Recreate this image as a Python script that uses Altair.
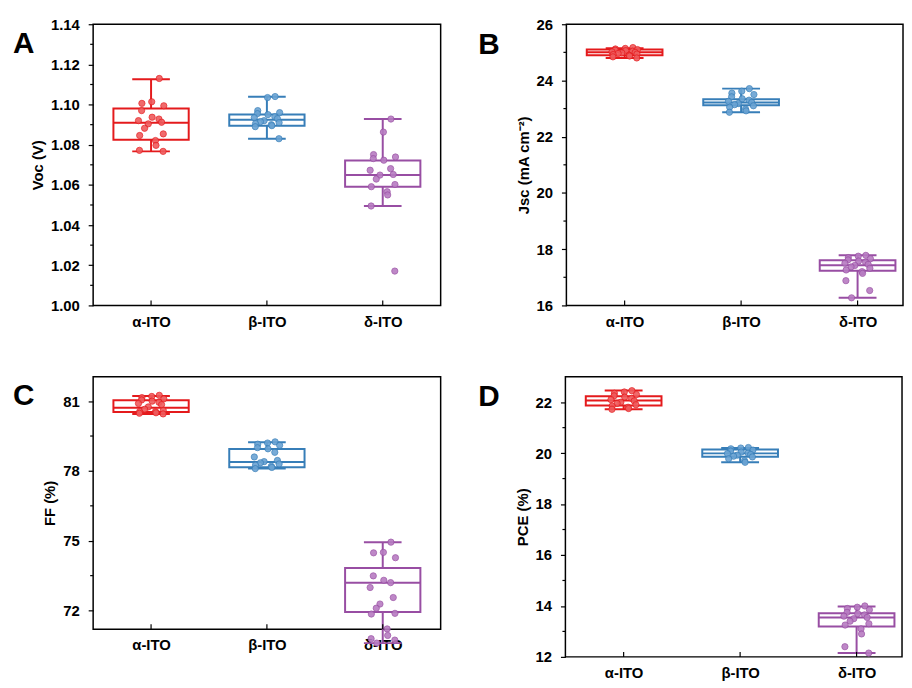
import altair as alt
import pandas as pd

GROUPS = ["α-ITO", "β-ITO", "δ-ITO"]
COLORS = ["#e41a1c", "#377eb8", "#984ea3"]
LIGHT = ["#ef5b5d", "#6aa3d3", "#b77cc2"]
FONT = "Liberation Sans"

# ---- Voc (V) ----
voc_a = [1.113, 1.1014, 1.1006, 1.0994, 1.097, 1.0937, 1.0928, 1.092, 1.0912, 1.0904,
         1.0882, 1.0854, 1.0846, 1.0821, 1.0797, 1.0772, 1.0767]
voc_b = [1.104, 1.1035, 1.097, 1.096, 1.0955, 1.095, 1.094, 1.0935, 1.093, 1.092,
         1.0915, 1.091, 1.0905, 1.090, 1.0895, 1.089, 1.083]
voc_d = [1.0928, 1.0863, 1.0751, 1.0739, 1.0731, 1.0723, 1.0681, 1.0673, 1.0652, 1.0649,
         1.0629, 1.0602, 1.0591, 1.0566, 1.055, 1.0495, 1.0171]
# box stats per group: q1, median, q3, whisker low, whisker high
voc_q1 = [1.0825, 1.0895, 1.0591]
voc_med = [1.0909, 1.0925, 1.0649]
voc_q3 = [1.0981, 1.095, 1.0722]
voc_lo = [1.0767, 1.083, 1.0495]
voc_hi = [1.1126, 1.1039, 1.0928]
voc_ticks = [1.00, 1.02, 1.04, 1.06, 1.08, 1.10, 1.12, 1.14]
voc_minor = [1.01, 1.03, 1.05, 1.07, 1.09, 1.11, 1.13]

# ---- Jsc (mA cm-2) ----
jsc_a = [25.17, 25.14, 25.12, 25.1, 25.08, 25.06, 25.04, 25.02, 25.0, 24.98, 24.96,
         24.94, 24.92, 24.9, 24.87, 24.84, 24.8]
jsc_b = [23.71, 23.62, 23.55, 23.5, 23.42, 23.35, 23.3, 23.26, 23.22, 23.18, 23.14,
         23.1, 23.05, 22.98, 22.92, 22.87]
jsc_d = [17.78, 17.75, 17.7, 17.66, 17.62, 17.58, 17.54, 17.5, 17.46, 17.42, 17.37,
         17.32, 17.26, 17.2, 17.14, 16.88, 16.53, 16.27]
jsc_q1 = [24.9, 23.12, 17.23]
jsc_med = [25.0, 23.22, 17.43]
jsc_q3 = [25.1, 23.33, 17.61]
jsc_lo = [24.8, 22.87, 16.27]
jsc_hi = [25.15, 23.71, 17.78]
jsc_ticks = [16, 18, 20, 22, 24, 26]
jsc_minor = [17, 19, 21, 23, 25]

# ---- FF (%) ----
ff_a = [81.25, 81.2, 81.15, 81.1, 81.05, 81.0, 80.95, 80.9, 80.85, 80.75, 80.65, 80.6,
        80.55, 80.55, 80.5, 80.48, 80.45]
ff_b = [79.25, 79.2, 79.15, 79.1, 79.0, 78.95, 78.8, 78.6, 78.45, 78.4, 78.35, 78.3,
        78.25, 78.2, 78.15, 78.1]
ff_d = [74.94, 74.5, 74.48, 74.27, 73.49, 73.3, 73.2, 72.99, 72.56, 72.28, 72.1, 71.88,
        71.85, 71.21, 70.93, 70.79, 70.73, 70.6]
ff_q1 = [80.53, 78.16, 71.94]
ff_med = [80.72, 78.38, 73.19]
ff_q3 = [81.04, 78.94, 73.83]
ff_lo = [80.45, 78.1, 70.6]
ff_hi = [81.22, 79.23, 74.94]
ff_ticks = [72, 75, 78, 81]
ff_minor = [73.5, 76.5, 79.5]

# ---- PCE (%) ----
pce_a = [22.45, 22.4, 22.35, 22.3, 22.25, 22.2, 22.15, 22.1, 22.05, 22.0, 21.95, 21.9,
         21.85, 21.8, 21.75, 21.72]
pce_b = [20.22, 20.2, 20.17, 20.12, 20.08, 20.04, 20.0, 19.98, 19.95, 19.92, 19.88,
         19.85, 19.78, 19.7, 19.64]
pce_d = [14.0, 13.95, 13.9, 13.85, 13.75, 13.7, 13.65, 13.6, 13.55, 13.5, 13.4, 13.3,
         13.25, 13.1, 12.9, 12.4, 12.15]
pce_q1 = [21.87, 19.86, 13.19]
pce_med = [22.07, 19.99, 13.55]
pce_q3 = [22.23, 20.14, 13.71]
pce_lo = [21.72, 19.64, 12.15]
pce_hi = [22.46, 20.2, 13.98]
pce_ticks = [12, 14, 16, 18, 20, 22]
pce_minor = [13, 15, 17, 19, 21]

LABEL_EXPR = "[" + ",".join("'%s'" % g for g in GROUPS) + "][datum.value]"


def panel(letter, ytitle, series, q1, med, q3, lo, hi, domain, ticks, minor, fmt,
          width, height, xmax, letter_dx, letter_dy):
    pts = pd.DataFrame(
        [{"group": g, "pos": gi, "value": v, "k": i}
         for gi, (g, vals) in enumerate(zip(GROUPS, series)) for i, v in enumerate(vals)]
    )
    box = pd.DataFrame({"group": GROUPS, "pos": list(range(len(GROUPS))), "q1": q1,
                        "med": med, "q3": q3, "lo": lo, "hi": hi})
    tk = pd.DataFrame({"t": list(minor)})

    xsc = alt.Scale(domain=[-0.5, xmax], nice=False, zero=False)
    xaxis = alt.Axis(title=None, values=[0, 1, 2], labelExpr=LABEL_EXPR, labelAngle=0,
                     ticks=False, domain=False, grid=False, labelFont=FONT,
                     labelFontSize=15, labelFontWeight="bold", labelColor="black",
                     labelPadding=9, labelFlush=False)
    ysc = alt.Scale(domain=domain, nice=False, zero=False)
    yaxis = alt.Axis(title=ytitle, values=ticks, format=fmt, ticks=True, tickSize=5,
                     tickWidth=1.2, tickColor="black", domain=False, grid=False,
                     labelFont=FONT, labelFontSize=15, labelFontWeight="bold",
                     labelColor="black", labelPadding=9, labelFlush=False,
                     titleFont=FONT, titleFontSize=15, titleFontWeight="bold",
                     titleColor="black", titlePadding=5)
    col = alt.Color("group:N", scale=alt.Scale(domain=GROUPS, range=COLORS), legend=None)
    stk = alt.Stroke("group:N", scale=alt.Scale(domain=GROUPS, range=COLORS), legend=None)

    base_box = alt.Chart(box).transform_calculate(
        bx0="datum.pos - 0.325", bx1="datum.pos + 0.325",
        cx0="datum.pos - 0.1625", cx1="datum.pos + 0.1625",
    )
    whisk = base_box.mark_rule(strokeWidth=2).encode(
        x=alt.X("pos:Q", scale=xsc, axis=xaxis),
        y=alt.Y("lo:Q", scale=ysc, axis=yaxis), y2="hi:Q", color=col)
    body = base_box.mark_rect(fill="white", strokeWidth=2).encode(
        x=alt.X("bx0:Q", scale=xsc), x2="bx1:Q",
        y=alt.Y("q1:Q", scale=ysc), y2="q3:Q", stroke=stk)
    median = base_box.mark_rule(strokeWidth=2).encode(
        x=alt.X("bx0:Q", scale=xsc), x2="bx1:Q",
        y=alt.Y("med:Q", scale=ysc), color=col)
    caps = base_box.transform_fold(["lo", "hi"], as_=["end", "cap"]).mark_rule(
        strokeWidth=2).encode(
        x=alt.X("cx0:Q", scale=xsc), x2="cx1:Q",
        y=alt.Y("cap:Q", scale=ysc), color=col)
    dots = alt.Chart(pts).transform_calculate(
        xj="datum.pos + sin(datum.k * 2.39 + 0.7) * 0.11"
    ).mark_circle(size=40, opacity=0.9, strokeWidth=0.8).encode(
        x=alt.X("xj:Q", scale=xsc),
        y=alt.Y("value:Q", scale=ysc),
        fill=alt.Fill("group:N", scale=alt.Scale(domain=GROUPS, range=LIGHT), legend=None),
        stroke=stk,
    )
    ymin = alt.Chart(tk).mark_rule(color="black", strokeWidth=1.2).encode(
        y=alt.Y("t:Q", scale=ysc), x=alt.value(-3), x2=alt.value(0))
    xt = alt.Chart(box).mark_rule(color="black", strokeWidth=1.2).encode(
        x=alt.X("pos:Q", scale=xsc), y=alt.value(height), y2=alt.value(height - 5))
    lab = alt.Chart(pd.DataFrame({"letter": [letter]})).mark_text(
        align="left", baseline="top", font=FONT, fontSize=30, fontWeight="bold",
        color="black").encode(text="letter:N", x=alt.value(letter_dx),
                              y=alt.value(letter_dy))

    return alt.layer(whisk, body, median, caps, dots, ymin, xt, lab).properties(
        width=width, height=height)


pa = panel("A", "Voc (V)", [voc_a, voc_b, voc_d], voc_q1, voc_med, voc_q3, voc_lo,
           voc_hi, [1.00, 1.14], voc_ticks, voc_minor, ".2f", 351, 284, 2.5, -81, 5)
pb = panel("B", "Jsc (mA cm⁻²)", [jsc_a, jsc_b, jsc_d], jsc_q1, jsc_med, jsc_q3, jsc_lo,
           jsc_hi, [16, 26], jsc_ticks, jsc_minor, "d", 340, 284, 2.39, -89, 6)
pc = panel("C", "FF (%)", [ff_a, ff_b, ff_d], ff_q1, ff_med, ff_q3, ff_lo, ff_hi,
           [71.2, 82.05], ff_ticks, ff_minor, "d", 351, 255, 2.5, -81, 5)
pd_ = panel("D", "PCE (%)", [pce_a, pce_b, pce_d], pce_q1, pce_med, pce_q3, pce_lo,
            pce_hi, [12, 23], pce_ticks, pce_minor, "d", 340, 283, 2.39, -88, 6)

chart = alt.vconcat(
    alt.hconcat(pa, pb, spacing=36),
    alt.hconcat(pc, pd_, spacing=36),
    spacing=46,
).properties(
    padding={"left": 4, "top": 5, "right": 0, "bottom": 0},
    background="white",
).configure_view(
    stroke="black", strokeWidth=1.5
)

chart.save("out.html", embed_options={"renderer": "svg", "actions": False})
